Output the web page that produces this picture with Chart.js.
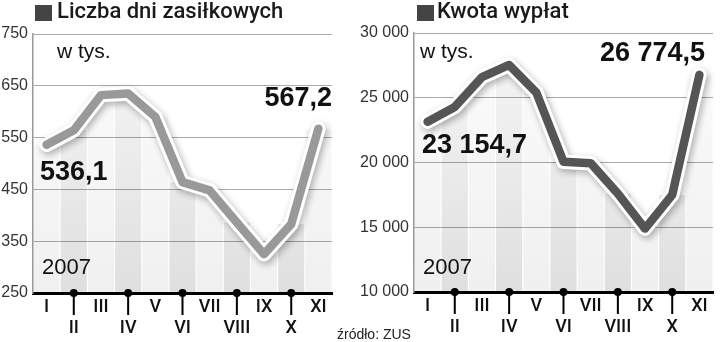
<!DOCTYPE html>
<html>
<head>
<meta charset="utf-8">
<script src="https://cdn.jsdelivr.net/npm/chart.js@4/dist/chart.umd.min.js"></script>
<style>
    body { margin: 0; background: #fff; }
    #wrap { position: relative; width: 720px; height: 342px; overflow: hidden; font-family: "Liberation Sans", Arial, sans-serif; color: #111; }
    canvas { position: absolute; top: 0; }
    .marks { pointer-events: none; }
    .txt { position: absolute; line-height: 1; white-space: nowrap; }
    .title { font-size: 22px; font-family: Roboto, "Liberation Sans", sans-serif; font-weight: 500; color: #1a1a1a; }
    .square { position: absolute; width: 17px; height: 16px; background: #444; }
    .unit { font-size: 21px; }
    .year { font-size: 22px; }
    .value { font-size: 27px; font-weight: bold; }
    .source { font-size: 14px; color: #222; }
</style>
</head>
<body>
<div id="wrap">
    <canvas id="dniChart" width="360" height="342" style="left:0"></canvas>
    <canvas id="kwotaChart" width="360" height="342" style="left:360px"></canvas>
    <canvas id="dniChartMarks" class="marks" width="360" height="342" style="left:0"></canvas>
    <canvas id="kwotaChartMarks" class="marks" width="360" height="342" style="left:360px"></canvas>

    <div class="square" style="left:35px; top:5px"></div>
    <div class="txt title" style="left:57px; top:0px">Liczba dni zasiłkowych</div>
    <div class="square" style="left:417px; top:5px"></div>
    <div class="txt title" style="left:437px; top:0px">Kwota wypłat</div>

    <div class="txt unit" style="left:57px; top:40px">w tys.</div>
    <div class="txt unit" style="left:420px; top:40px">w tys.</div>
    <div class="txt year" style="left:42px; top:256px">2007</div>
    <div class="txt year" style="left:423px; top:256px">2007</div>

    <div class="txt value" id="dniFirst" style="left:40px; top:158px"></div>
    <div class="txt value" id="dniLast" style="right:388px; top:84px"></div>
    <div class="txt value" id="kwotaFirst" style="left:422px; top:131px"></div>
    <div class="txt value" id="kwotaLast" style="right:15px; top:39px"></div>

    <div class="txt source" style="left:337px; top:327px">źródło: ZUS</div>
</div>

<script>
const months = ['I', 'II', 'III', 'IV', 'V', 'VI', 'VII', 'VIII', 'IX', 'X', 'XI'];
const dniValues = [536.1, 564, 632, 635, 590, 464, 448, 386, 325, 383, 567.2];
const kwotaValues = [23154.7, 24290, 26600, 27530, 25400, 20060, 19950, 17600, 14900, 17500, 26774.5];

const dniTicks = { min: 250, max: 750, step: 100 };
const kwotaTicks = { min: 10000, max: 30000, step: 5000 };

function formatValue(v) {
    const parts = v.toFixed(1).split('.');
    return parts[0].replace(/\B(?=(\d{3})+(?!\d))/g, ' ') + ',' + parts[1];
}

function formatTick(v) {
    return String(v).replace(/\B(?=(\d{3})+(?!\d))/g, ' ');
}

// kropki i kreski przy parzystych miesiącach - na osobnej warstwie nad wykresem
const axisMarks = {
    id: 'axisMarks',
    afterDraw(chart) {
        const overlay = document.getElementById(chart.canvas.id + 'Marks');
        if (!overlay) return;
        const ctx = overlay.getContext('2d');
        const xScale = chart.scales.x;
        const y = chart.chartArea.bottom;
        ctx.clearRect(0, 0, overlay.width, overlay.height);
        ctx.fillStyle = '#000';
        months.forEach((m, i) => {
            if (i % 2 === 0) return;
            const x = xScale.getPixelForTick(i);
            ctx.fillRect(x - 1, y, 2, 22);
            ctx.beginPath();
            ctx.arc(x, y, 4, 0, Math.PI * 2);
            ctx.fill();
        });
    }
};

// cień pod białą obwódką linii
const haloShadow = {
    id: 'haloShadow',
    beforeDatasetDraw(chart, args) {
        const ctx = chart.ctx;
        if (chart.data.datasets[args.index].isHalo) {
            ctx.shadowColor = 'rgba(0,0,0,0.3)';
            ctx.shadowBlur = 7;
            ctx.shadowOffsetX = 2;
            ctx.shadowOffsetY = 3;
        }
    },
    afterDatasetDraw(chart) {
        const ctx = chart.ctx;
        ctx.shadowColor = 'rgba(0,0,0,0)';
        ctx.shadowBlur = 0;
        ctx.shadowOffsetX = 0;
        ctx.shadowOffsetY = 0;
    }
};

function stripeColor(context) {
    const chart = context.chart;
    const area = chart.chartArea;
    if (!area) return 'rgba(0,0,0,0.05)';
    const dark = context.dataIndex % 2 === 1;
    const g = chart.ctx.createLinearGradient(0, area.top, 0, area.bottom);
    g.addColorStop(0, dark ? 'rgba(0,0,0,0.03)' : 'rgba(0,0,0,0.01)');
    g.addColorStop(1, dark ? 'rgba(0,0,0,0.125)' : 'rgba(0,0,0,0.06)');
    return g;
}

function makeChart(canvasId, values, ticksDef, lineColor, layout) {
    return new Chart(document.getElementById(canvasId), {
        type: 'bar',
        data: {
            labels: months,
            datasets: [
                {
                    type: 'line',
                    data: values,
                    clip: false,
                    borderColor: lineColor,
                    borderWidth: 8.5,
                    borderJoinStyle: 'round',
                    borderCapStyle: 'round',
                    pointRadius: 0,
                    tension: 0,
                    order: 1
                },
                {
                    type: 'line',
                    isHalo: true,
                    data: values,
                    clip: false,
                    borderColor: '#fff',
                    borderWidth: 14.5,
                    borderJoinStyle: 'round',
                    borderCapStyle: 'round',
                    pointRadius: 0,
                    tension: 0,
                    order: 2
                },
                {
                    data: values,
                    backgroundColor: stripeColor,
                    borderWidth: 0,
                    barPercentage: 1,
                    categoryPercentage: 0.96,
                    order: 3
                }
            ]
        },
        options: {
            responsive: false,
            animation: false,
            devicePixelRatio: 1,
            layout: { padding: { top: layout.top, right: layout.right, left: 0, bottom: 0 } },
            plugins: { legend: { display: false }, tooltip: { enabled: false } },
            scales: {
                x: {
                    offset: true,
                    grid: { display: true, drawOnChartArea: false, drawTicks: false },
                    border: { color: '#000', width: 3 },
                    ticks: {
                        autoSkip: false,
                        maxRotation: 0,
                        padding: 4,
                        color: '#111',
                        font: { family: 'Roboto', weight: 500, size: 18, lineHeight: 1.17 },
                        callback: (v, i) => (i % 2 ? ['', months[i]] : months[i])
                    },
                    afterFit: (scale) => { scale.height = layout.xHeight; }
                },
                y: {
                    min: ticksDef.min,
                    max: ticksDef.max,
                    grid: { color: '#aaa', lineWidth: 1, drawTicks: false },
                    border: { color: '#999', width: 1.5 },
                    ticks: {
                        stepSize: ticksDef.step,
                        padding: 5,
                        color: '#333',
                        font: { family: 'Liberation Sans', size: 16 },
                        callback: (v) => formatTick(v)
                    },
                    afterFit: (scale) => { scale.width = layout.yWidth; }
                }
            }
        },
        plugins: [axisMarks, haloShadow]
    });
}

document.getElementById('dniFirst').textContent = formatValue(dniValues[0]);
document.getElementById('dniLast').textContent = formatValue(dniValues[dniValues.length - 1]);
document.getElementById('kwotaFirst').textContent = formatValue(kwotaValues[0]);
document.getElementById('kwotaLast').textContent = formatValue(kwotaValues[kwotaValues.length - 1]);

makeChart('dniChart', dniValues, dniTicks, '#999', { top: 34, right: 28, yWidth: 33, xHeight: 49 });
makeChart('kwotaChart', kwotaValues, kwotaTicks, '#555', { top: 33, right: 7, yWidth: 54, xHeight: 50 });
</script>
</body>
</html>
